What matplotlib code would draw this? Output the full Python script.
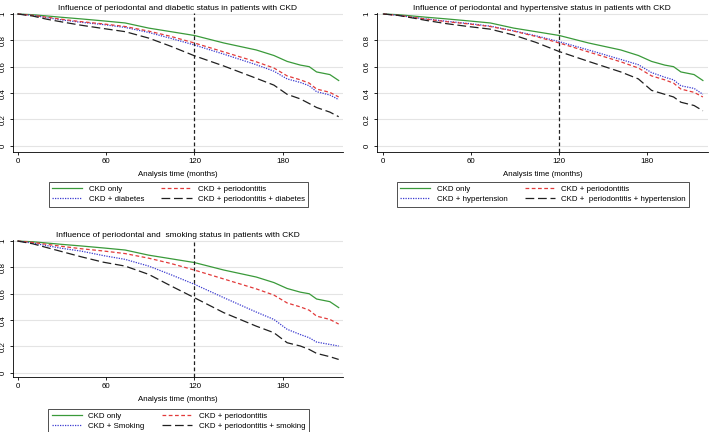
import matplotlib.pyplot as plt

months = [0, 10, 20, 30, 43, 58, 73, 89, 104, 120, 140, 162, 174, 183, 192, 198, 203, 212, 218]

ckd_only = [1, 0.995, 0.985, 0.975, 0.963, 0.948, 0.932, 0.893, 0.866, 0.837, 0.78, 0.727,
            0.685, 0.64, 0.612, 0.60, 0.56, 0.54, 0.495]
ckd_perio = [1, 0.99, 0.975, 0.96, 0.942, 0.925, 0.905, 0.87, 0.83, 0.78, 0.712, 0.637,
             0.59, 0.53, 0.50, 0.475, 0.43, 0.405, 0.37]

ckd_diab = [1, 0.99, 0.972, 0.955, 0.937, 0.92, 0.898, 0.86, 0.815, 0.765, 0.695, 0.615,
            0.566, 0.507, 0.48, 0.455, 0.41, 0.385, 0.35]
ckd_perio_diab = [1, 0.985, 0.96, 0.94, 0.915, 0.89, 0.866, 0.817, 0.755, 0.683, 0.605, 0.512,
                  0.46, 0.39, 0.355, 0.32, 0.29, 0.255, 0.22]

ckd_htn = [1, 0.99, 0.975, 0.962, 0.945, 0.928, 0.908, 0.872, 0.835, 0.79, 0.727, 0.655,
           0.615, 0.555, 0.52, 0.50, 0.455, 0.435, 0.39]
ckd_perio_htn = [1, 0.99, 0.97, 0.95, 0.927, 0.905, 0.885, 0.84, 0.785, 0.715, 0.64, 0.56,
                 0.507, 0.42, 0.39, 0.37, 0.33, 0.305, 0.265]

ckd_smk = [1, 0.985, 0.965, 0.945, 0.924, 0.89, 0.861, 0.81, 0.745, 0.672, 0.57, 0.461,
           0.405, 0.33, 0.29, 0.266, 0.233, 0.215, 0.203]
ckd_perio_smk = [1, 0.98, 0.95, 0.92, 0.881, 0.84, 0.81, 0.747, 0.66, 0.57, 0.456, 0.354,
                 0.304, 0.228, 0.203, 0.177, 0.147, 0.122, 0.101]

x_ticks = [0, 60, 120, 180]
y_ticks = [0, 0.2, 0.4, 0.6, 0.8, 1]
y_labels = ['0', '0.2', '0.4', '0.6', '0.8', '1']

plt.rcParams['font.family'] = ['Liberation Sans', 'DejaVu Sans']
plt.rcParams['font.size'] = 5.7

GREEN = '#3a9a3a'
RED = '#e23a3a'
BLUE = '#3a3ad0'
BLACK = '#202020'


def km_panel(ax, title, third, fourth, label3, label4, xlim, ylim, leg_y):
	ax.plot(months, ckd_only, color=GREEN, lw=0.9, label='CKD only')
	ax.plot(months, third, color=BLUE, lw=0.9, linestyle=(0, (1, 1)), label=label3)
	ax.plot(months, ckd_perio, color=RED, lw=0.9, linestyle=(0, (3, 2)), label='CKD + periodontitis')
	ax.plot(months, fourth, color=BLACK, lw=0.9, linestyle=(0, (7, 3)), label=label4)
	ax.axvline(120, color=BLACK, lw=0.9, linestyle=(0, (3, 2)))

	ax.set_xlim(xlim)
	ax.set_ylim(ylim)
	ax.set_xticks(x_ticks)
	ax.set_yticks(y_ticks)
	ax.set_yticklabels(y_labels, rotation=90, va='center')
	ax.grid(axis='y', color='#e4e4e4', lw=0.8)
	ax.set_axisbelow(True)
	for s in ['top', 'right']:
		ax.spines[s].set_visible(False)
	for s in ['left', 'bottom']:
		ax.spines[s].set_linewidth(0.6)
	ax.tick_params(length=2.5, width=0.6, pad=2)
	ax.set_title(title, fontsize=6, pad=2)
	ax.set_xlabel('Analysis time (months)', labelpad=4)
	ax.legend(loc='upper center', bbox_to_anchor=(0.502, leg_y), ncol=2, frameon=True,
			  fancybox=False, edgecolor='#333333', handlelength=3.8, columnspacing=2.2,
			  borderpad=0.45, labelspacing=0.3, handletextpad=0.8, framealpha=1,
			  fontsize=5.7).get_frame().set_linewidth(0.6)


fig = plt.figure(figsize=(7.09, 4.32), dpi=100)
ax1 = fig.add_axes([0.0179, 0.6488, 0.466, 0.3218])
ax2 = fig.add_axes([0.5313, 0.6488, 0.4673, 0.3218])
ax3 = fig.add_axes([0.0179, 0.128, 0.466, 0.317])

km_panel(ax1, 'Influence of periodontal and diabetic status in patients with CKD',
		 ckd_diab, ckd_perio_diab, 'CKD + diabetes', 'CKD + periodontitis + diabetes',
		 (-3.4, 221), (-0.046, 1.01), -0.19)
km_panel(ax2, 'Influence of periodontal and hypertensive status in patients with CKD',
		 ckd_htn, ckd_perio_htn, 'CKD + hypertension', 'CKD +  periodontitis + hypertension',
		 (-4.5, 221.5), (-0.046, 1.01), -0.19)
km_panel(ax3, 'Influence of periodontal and  smoking status in patients with CKD',
		 ckd_smk, ckd_perio_smk, 'CKD + Smoking', 'CKD + periodontitis + smoking',
		 (-3.4, 221), (-0.03, 1.01), -0.208)

fig.savefig('out.png', dpi=100, facecolor='white')
